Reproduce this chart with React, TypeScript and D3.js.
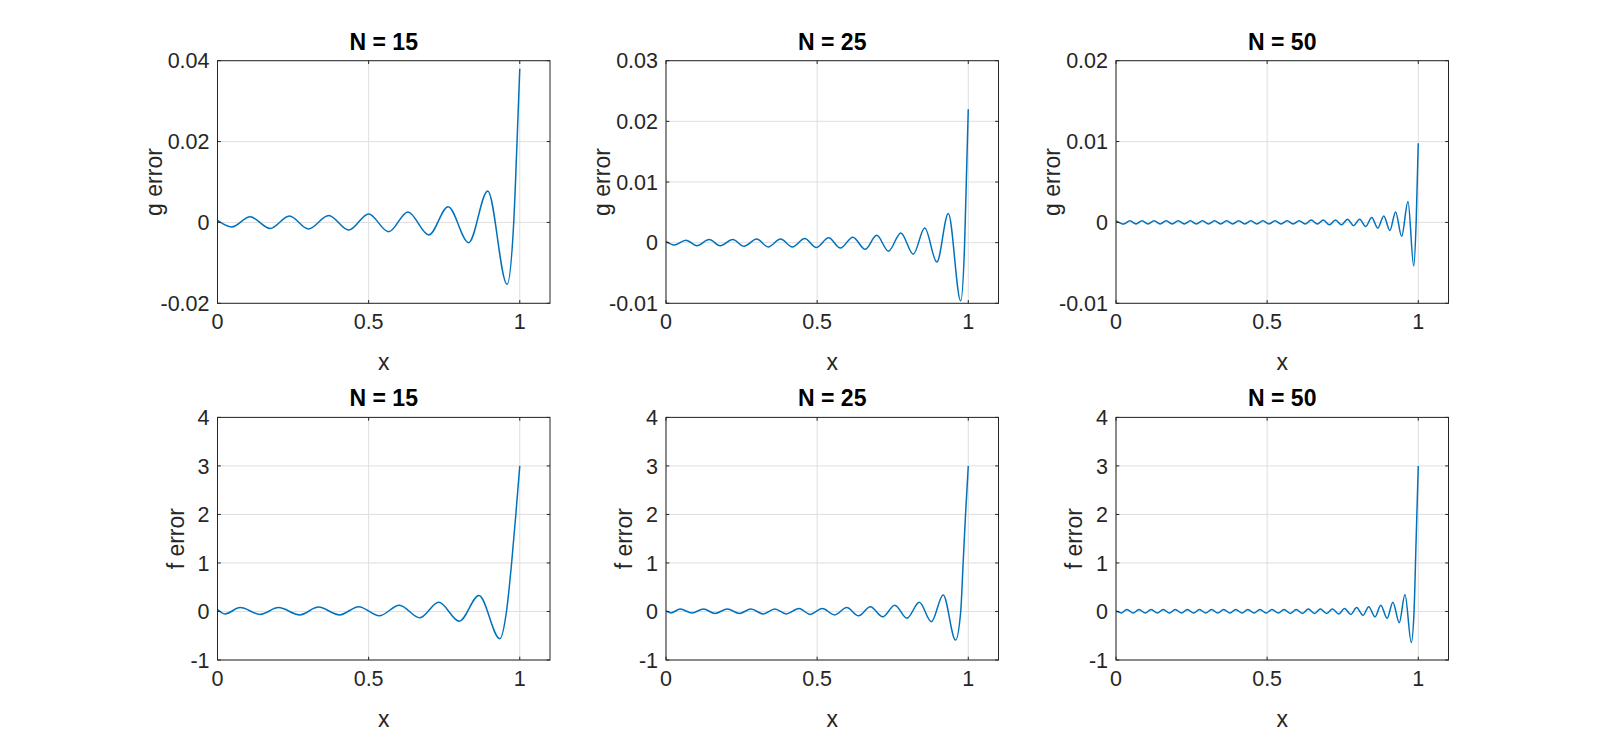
import React from 'react';
import * as d3 from 'd3';

// ---------- data ----------
const titles = ['N = 15', 'N = 25', 'N = 50'];
const xTicks = [0, 0.5, 1];
const gTicks15 = [-0.02, 0, 0.02, 0.04];
const gTicks25 = [-0.01, 0, 0.01, 0.02, 0.03];
const gTicks50 = [-0.01, 0, 0.01, 0.02];
const fTicks = [-1, 0, 1, 2, 3, 4];

const g15: [number, number][] = [
  [0, 0.0005], [0.047, -0.0011], [0.108, 0.0014], [0.174, -0.0015], [0.238, 0.0016],
  [0.301, -0.0016], [0.368, 0.0017], [0.434, -0.0019], [0.5, 0.0021], [0.566, -0.0023],
  [0.63, 0.0026], [0.699, -0.0031], [0.763, 0.0039], [0.831, -0.005], [0.894, 0.0078],
  [0.958, -0.0153], [0.98, 0.0], [0.991, 0.02], [1.0, 0.038],
];

const g25: [number, number][] = [
  [0, 0.0002], [0.027, -0.0004], [0.066, 0.0004], [0.102, -0.0005], [0.143, 0.0005],
  [0.179, -0.0005], [0.221, 0.0005], [0.258, -0.0006], [0.3, 0.0006], [0.338, -0.0007],
  [0.379, 0.0006], [0.418, -0.0007], [0.459, 0.0007], [0.497, -0.0008], [0.538, 0.0008],
  [0.577, -0.0009], [0.618, 0.0009], [0.659, -0.0011], [0.697, 0.0012], [0.736, -0.0014],
  [0.777, 0.0016], [0.818, -0.0019], [0.856, 0.0024], [0.896, -0.0032], [0.934, 0.0048],
  [0.975, -0.0096], [0.988, 0.0], [0.994, 0.011], [1.0, 0.022],
];

const g50: [number, number][] = [
  [0, 0.0002], [0.026, -0.0002], [0.046, 0.0002], [0.066, -0.0002], [0.086, 0.0002],
  [0.106, -0.0002], [0.126, 0.0002], [0.146, -0.0002], [0.166, 0.0002], [0.186, -0.0002],
  [0.206, 0.0002], [0.226, -0.0002], [0.246, 0.0002], [0.266, -0.0002], [0.286, 0.0002],
  [0.306, -0.0002], [0.326, 0.0002], [0.346, -0.0002], [0.366, 0.0002], [0.386, -0.0002],
  [0.406, 0.0002], [0.426, -0.0002], [0.446, 0.0002], [0.466, -0.0002], [0.486, 0.0002],
  [0.506, -0.0002], [0.526, 0.0002], [0.546, -0.0002], [0.566, 0.0002], [0.586, -0.0002],
  [0.606, 0.0002], [0.626, -0.0002], [0.646, 0.0003], [0.666, -0.0002], [0.686, 0.0003],
  [0.706, -0.0003], [0.726, 0.0003], [0.746, -0.0003], [0.766, 0.0004], [0.786, -0.0004],
  [0.806, 0.0004], [0.826, -0.0005], [0.846, 0.0006], [0.866, -0.0007], [0.886, 0.0008],
  [0.906, -0.001], [0.925, 0.0013], [0.945, -0.0017], [0.966, 0.0026], [0.985, -0.0054],
  [0.993, 0.0], [1.0, 0.0098],
];

const f15: [number, number][] = [
  [0, 0.04], [0.025, -0.05], [0.075, 0.08], [0.141, -0.06], [0.202, 0.08],
  [0.272, -0.07], [0.334, 0.09], [0.404, -0.07], [0.467, 0.1], [0.535, -0.09],
  [0.602, 0.13], [0.669, -0.13], [0.732, 0.19], [0.8, -0.2], [0.865, 0.33],
  [0.934, -0.56], [0.956, 0.0], [0.973, 1.0], [0.987, 2.0], [1.0, 3.0],
];

const f25: [number, number][] = [
  [0, 0.01], [0.016, -0.03], [0.047, 0.05], [0.086, -0.03], [0.124, 0.05],
  [0.162, -0.04], [0.203, 0.05], [0.243, -0.04], [0.281, 0.05], [0.322, -0.05],
  [0.36, 0.05], [0.398, -0.05], [0.44, 0.06], [0.477, -0.06], [0.517, 0.06],
  [0.558, -0.07], [0.598, 0.08], [0.637, -0.09], [0.676, 0.1], [0.717, -0.11],
  [0.757, 0.13], [0.797, -0.14], [0.838, 0.19], [0.878, -0.21], [0.917, 0.34],
  [0.958, -0.59], [0.975, 0.0], [0.983, 1.0], [0.991, 2.0], [1.0, 3.0],
];

const f50: [number, number][] = [
  [0, 0.01], [0.017, -0.03], [0.036, 0.04], [0.057, -0.03], [0.076, 0.04],
  [0.097, -0.03], [0.116, 0.04], [0.137, -0.03], [0.156, 0.04], [0.177, -0.03],
  [0.196, 0.04], [0.217, -0.03], [0.236, 0.04], [0.257, -0.03], [0.276, 0.04],
  [0.297, -0.03], [0.316, 0.04], [0.337, -0.03], [0.356, 0.04], [0.377, -0.03],
  [0.396, 0.04], [0.417, -0.03], [0.436, 0.04], [0.457, -0.03], [0.476, 0.04],
  [0.497, -0.03], [0.516, 0.04], [0.537, -0.03], [0.556, 0.04], [0.577, -0.04],
  [0.596, 0.04], [0.617, -0.04], [0.636, 0.05], [0.657, -0.04], [0.676, 0.05],
  [0.697, -0.04], [0.716, 0.05], [0.737, -0.05], [0.756, 0.06], [0.777, -0.06],
  [0.796, 0.08], [0.817, -0.08], [0.836, 0.1], [0.857, -0.11], [0.876, 0.13],
  [0.897, -0.14], [0.916, 0.19], [0.937, -0.23], [0.956, 0.35], [0.977, -0.64],
  [0.986, 0.0], [0.993, 1.5], [1.0, 3.0],
];

// ---------- layout ----------
const W = 1600;
const H = 751;
const lefts = [217.5, 666, 1116];
const tops = [60.7, 417.4];
const PW = 332.5;
const PH = 242.6;
const FONT = "'Liberation Sans', Arial, Helvetica, sans-serif";
const TXT = '#262626';
const LINE = '#0072BD';
const GRID = '#dfdfdf';
const TICK_FS = 21.5;
const LABEL_FS = 23;

type Panel = {
  row: number;
  col: number;
  data: [number, number][];
  ticks: number[];
  ylabel: string;
  title: string;
  ylabelOffset: number;
};

const panels: Panel[] = [
  { row: 0, col: 0, data: g15, ticks: gTicks15, ylabel: 'g error', title: titles[0], ylabelOffset: 64 },
  { row: 0, col: 1, data: g25, ticks: gTicks25, ylabel: 'g error', title: titles[1], ylabelOffset: 64 },
  { row: 0, col: 2, data: g50, ticks: gTicks50, ylabel: 'g error', title: titles[2], ylabelOffset: 64 },
  { row: 1, col: 0, data: f15, ticks: fTicks, ylabel: 'f error', title: titles[0], ylabelOffset: 42 },
  { row: 1, col: 1, data: f25, ticks: fTicks, ylabel: 'f error', title: titles[1], ylabelOffset: 42 },
  { row: 1, col: 2, data: f50, ticks: fTicks, ylabel: 'f error', title: titles[2], ylabelOffset: 42 },
];

function PanelView({ p, idx }: { p: Panel; idx: number }) {
  const x0 = lefts[p.col];
  const y0 = tops[p.row];
  const x = d3.scaleLinear().domain([0, 1.1]).range([x0, x0 + PW]);
  const yDom = d3.extent(p.ticks) as [number, number];
  const y = d3.scaleLinear().domain(yDom).range([y0 + PH, y0]);
  const line = d3
    .line<[number, number]>()
    .x((d) => x(d[0]))
    .y((d) => y(d[1]))
    .curve(d3.curveMonotoneX);
  const tl = 3.3;
  const clipId = `clip-${idx}`;
  return (
    <g>
      <defs>
        <clipPath id={clipId}>
          <rect x={x0} y={y0} width={PW} height={PH} />
        </clipPath>
      </defs>
      <rect x={x0} y={y0} width={PW} height={PH} fill="#fff" />
      {xTicks.map((t) => (
        <line key={`gx${t}`} x1={x(t)} x2={x(t)} y1={y0} y2={y0 + PH} stroke={GRID} strokeWidth={1} />
      ))}
      {p.ticks.map((t) => (
        <line key={`gy${t}`} x1={x0} x2={x0 + PW} y1={y(t)} y2={y(t)} stroke={GRID} strokeWidth={1} />
      ))}
      <path d={line(p.data) || ''} fill="none" stroke={LINE} strokeWidth={1.5} clipPath={`url(#${clipId})`} strokeLinejoin="round" />
      <rect x={x0} y={y0} width={PW} height={PH} fill="none" stroke={TXT} strokeWidth={1} />
      {xTicks.map((t) => (
        <g key={`tx${t}`}>
          <line x1={x(t)} x2={x(t)} y1={y0 + PH} y2={y0 + PH - tl} stroke={TXT} />
          <line x1={x(t)} x2={x(t)} y1={y0} y2={y0 + tl} stroke={TXT} />
          <text x={x(t)} y={y0 + PH + 10} dy="0.75em" textAnchor="middle" fontSize={TICK_FS} fill={TXT} fontFamily={FONT}>
            {String(t)}
          </text>
        </g>
      ))}
      {p.ticks.map((t) => (
        <g key={`ty${t}`}>
          <line x1={x0} x2={x0 + tl} y1={y(t)} y2={y(t)} stroke={TXT} />
          <line x1={x0 + PW} x2={x0 + PW - tl} y1={y(t)} y2={y(t)} stroke={TXT} />
          <text x={x0 - 8} y={y(t)} dy="0.36em" textAnchor="end" fontSize={TICK_FS} fill={TXT} fontFamily={FONT}>
            {String(t)}
          </text>
        </g>
      ))}
      <text x={x0 + PW / 2} y={y0 - 11} textAnchor="middle" fontSize={LABEL_FS} fontWeight="bold" fill="#000" fontFamily={FONT}>
        {p.title}
      </text>
      <text x={x0 + PW / 2} y={y0 + PH + 67} textAnchor="middle" fontSize={LABEL_FS} fill={TXT} fontFamily={FONT}>
        x
      </text>
      <text
        transform={`translate(${x0 - p.ylabelOffset},${y0 + PH / 2}) rotate(-90)`}
        dy="0.35em"
        textAnchor="middle"
        fontSize={LABEL_FS}
        fill={TXT}
        fontFamily={FONT}
      >
        {p.ylabel}
      </text>
    </g>
  );
}

export default function App() {
  return (
    <svg width={W} height={H} style={{ position: 'absolute', left: 0, top: 0, background: '#fff' }}>
      <rect x={0} y={0} width={W} height={H} fill="#fff" />
      {panels.map((p, i) => (
        <PanelView key={i} p={p} idx={i} />
      ))}
    </svg>
  );
}
